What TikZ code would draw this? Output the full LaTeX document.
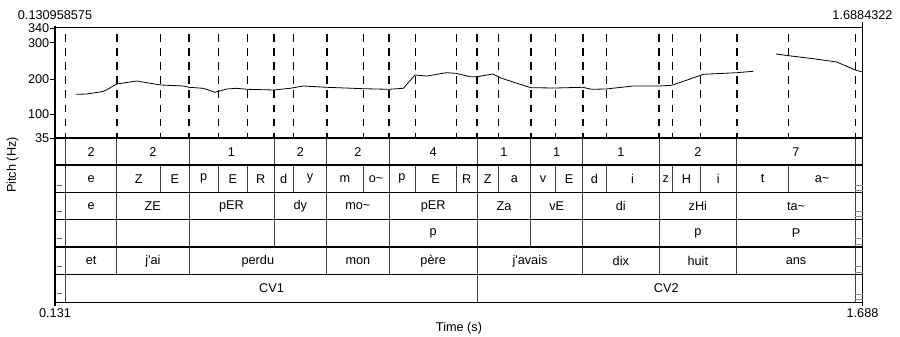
\documentclass[tikz,border=0pt]{standalone}
\usepackage{fontspec}
\newfontfamily\praatfont{Liberation Sans}

\def\syllbounds{65.7,116.7,189,274,326.7,389,477.3,530.7,582.7,659,736.7,855.3}
\def\phonebounds{65.7,116.7,160.7,189,218.3,247.3,274,293.3,326.7,363.3,389,415,456,477.3,498.3,530.7,555.3,582.7,606,659,672.7,700,736.7,788.7,855.3}
\def\wordbounds{65.7,116.7,189,326.7,389,477.3,582.7,659,736.7,855.3}

\begin{document}
\begin{tikzpicture}[x=1pt, y=-1pt, font={\praatfont\fontsize{12.7}{14}\selectfont},
    tierline/.style={line width=1.2pt},
    bound/.style={line width=0.8pt, black!75},
    major/.style={line width=1.7pt, dash pattern=on 7.5pt off 6.5pt, dash phase=7.5pt},
    minor/.style={line width=0.9pt, dash pattern=on 7.5pt off 6.5pt, dash phase=7.5pt},
    lab/.style={inner sep=0pt}]

    \useasboundingbox (0,0) rectangle (900,337);

    \foreach \x in {116.7,189,274,326.7,389,477.3,530.7,582.7,659,736.7}
    \draw[major] (\x,28) -- (\x,138);
    \foreach \x in {65.7,160.7,218.3,247.3,293.3,363.3,415,456,498.3,555.3,606,672.7,700,788.7,855.3}
    \draw[minor] (\x,28) -- (\x,138);

    \draw[line width=0.8pt] plot coordinates {(76,94.3) (86.7,94) (100,92) (105,90.7) (116.7,84) (136.7,81) (160.7,85) (183.3,86) (189,87.3) (203.3,88.3) (215,92.3) (226.7,89) (236.7,88.3) (247.3,89.3) (274,90) (290,88.3) (303.3,86) (326.7,87.3) (363.3,88.7) (389,89.3) (403.3,88.3) (415,75) (426.7,76) (446.7,72.7) (456,73.3) (470,76.7) (477.3,76.7) (492.7,74) (501.7,78.3) (530.7,87.7) (555.3,88) (582.7,87.3) (591.7,89.3) (606,89) (633.3,86) (659,86) (671.7,85.3) (690,79) (703.3,74.3) (736.7,72.7) (753.3,71.3)};
    \draw[line width=0.8pt] plot coordinates {(776,54) (788.7,55.7) (813.3,58.7) (836.7,62) (855.3,70) (862.5,72)};

    \foreach \x in \syllbounds
    \draw[bound] (\x,138) -- (\x,165) (\x,192.3) -- (\x,247);
    \foreach \x in \phonebounds
    \draw[bound] (\x,165) -- (\x,192.3);
    \foreach \x in \wordbounds
    \draw[bound] (\x,247) -- (\x,274.7);
    \foreach \x in {65.7,477.3,855.3}
    \draw[bound] (\x,274.7) -- (\x,302.3);

    \foreach \y in {138,165,192.3,219.5,247,274.7,302.3}
    \draw[tierline] (55,\y) -- (862.5,\y);
    \draw[line width=1pt] (55,28) -- (862.5,28);
    \draw[line width=1.5pt] (55,26) -- (55,306);
    \draw[line width=1pt] (862.5,22) -- (862.5,306);

    \foreach \y in {185,211,238.3,266.7,293.3}
    \draw[black!60, line width=0.8pt] (56.5,\y) -- (62,\y);
    \foreach \y in {185,211,238.3,266.7,294}
    \draw[black!45, line width=0.6pt] (855.3,\y) -- (862.5,\y) (855.3,\y+5.7) -- (862.5,\y+5.7);

    \foreach \f/\y in {340/28,300/42.7,200/79,100/114.5,35/138}
    {
        \draw (50,\y) -- (55,\y);
        \node[lab, anchor=east] (hz\f) at (49.5,\y) {\f};
    }

    \foreach \a/\b/\t [count=\i] in {65.7/116.7/2, 116.7/189/2, 189/274/1, 274/326.7/2, 326.7/389/2, 389/477.3/4, 477.3/530.7/1, 530.7/582.7/1, 582.7/659/1, 659/736.7/2, 736.7/855.3/7}
    \node[lab] (num\i) at ({(\a+\b)/2},151.7) {\t};

    \foreach \a/\b/\t [count=\i] in {65.7/116.7/e, 116.7/160.7/Z, 160.7/189/E, 189/218.3/p, 218.3/247.3/E, 247.3/274/R, 274/293.3/d, 293.3/326.7/y, 326.7/363.3/m, 363.3/389/o\textasciitilde, 389/415/p, 415/456/E, 456/477.3/R, 477.3/498.3/Z, 498.3/530.7/a, 530.7/555.3/v, 555.3/582.7/E, 582.7/606/d, 606/659/i, 659/672.7/z, 672.7/700/H, 700/736.7/i, 736.7/788.7/t, 788.7/855.3/a\textasciitilde}
    \node[lab] (phone\i) at ({(\a+\b)/2},178.7) {\t};

    \foreach \a/\b/\t [count=\i] in {65.7/116.7/e, 116.7/189/ZE, 189/274/pER, 274/326.7/dy, 326.7/389/mo\textasciitilde, 389/477.3/pER, 477.3/530.7/Za, 530.7/582.7/vE, 582.7/659/di, 659/736.7/zHi, 736.7/855.3/ta\textasciitilde}
    \node[lab] (syl\i) at ({(\a+\b)/2},206) {\t};

    \foreach \a/\b/\t [count=\i] in {389/477.3/p, 659/736.7/p, 736.7/855.3/P}
    \node[lab] (prom\i) at ({(\a+\b)/2},233.2) {\t};

    \foreach \a/\b/\t [count=\i] in {65.7/116.7/et, 116.7/189/j'ai, 189/326.7/perdu, 326.7/389/mon, 389/477.3/père, 477.3/582.7/j'avais, 582.7/659/dix, 659/736.7/huit, 736.7/855.3/ans}
    \node[lab] (word\i) at ({(\a+\b)/2},260.8) {\t};

    \node[lab] (cv1) at (271.5,288.5) {CV1};
    \node[lab] (cv2) at (666.3,288.5) {CV2};

    \node[lab] (tstart) at (55,15) {0.130958575};
    \node[lab] (tend) at (862.5,15) {1.6884322};
    \node[lab] (xmin) at (55,313.5) {0.131};
    \node[lab] (xmax) at (862.5,313.5) {1.688};
    \node[lab] (xlabel) at (459,328.5) {Time (s)};
    \node[lab, rotate=90] (ylabel) at (12.5,165) {Pitch (Hz)};
\end{tikzpicture}
\end{document}
